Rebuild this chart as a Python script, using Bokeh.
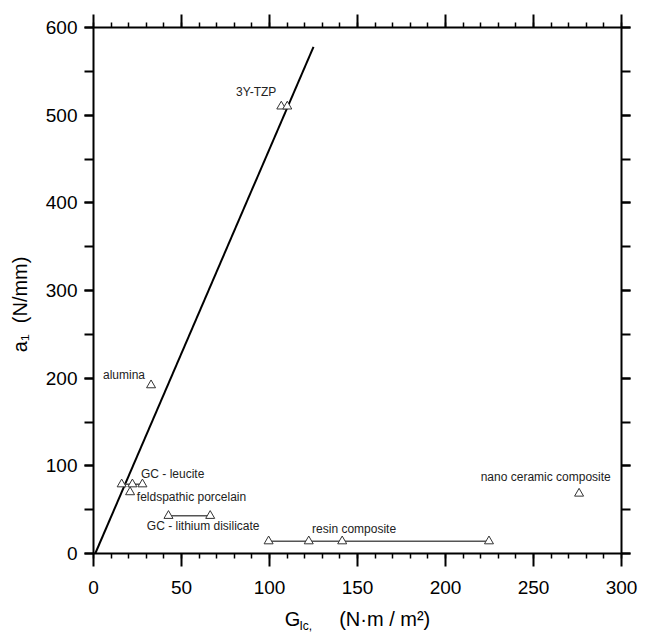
from bokeh.plotting import figure
from bokeh.models import Range1d, LinearAxis, SingleIntervalTicker, ColumnDataSource
from bokeh.core.properties import value
from bokeh.embed import file_html
from bokeh.resources import INLINE

FONT = "Liberation Sans"
NB = "\u00a0"

# --- data ---
tzp_x = [106.7, 110.1]
tzp_y = [510, 510]
alumina_x = [32.7]
alumina_y = [192]
leucite_x = [16.0, 22.1, 27.8]
leucite_y = [79, 79, 79]
feld_x = [20.8]
feld_y = [70]
lith_x = [42.6, 66.3]
lith_y = [43, 43]
resin_x = [99.5, 122.3, 141.3, 224.7]
resin_y = [14, 14, 14, 14]
nano_x = [275.9]
nano_y = [68.4]

fit_x = [1, 125]
fit_y = [0, 578]

label_text = ["3Y-TZP", "alumina", "GC - leucite", "feldspathic  porcelain",
              "GC - lithium disilicate", "resin  composite", "nano ceramic composite"]
label_x = [81.0, 5.4, 27.0, 24.6, 30.3, 124.2, 220.0]
label_y = [526, 204, 91, 64, 31.5, 27.4, 86.7]

x_label_main = "G" + NB * 7 + "(N·m / m²)"
x_label_sub = "Ic," + NB * 31
y_label = "a₁" + NB * 2 + "(N/mm)" + NB * 5

x_ticks_interval = 50
y_ticks_interval = 100

W, H = 641, 636
p = figure(width=W, height=H, output_backend="svg", toolbar_location=None,
           x_range=Range1d(0, 300), y_range=Range1d(0, 600),
           x_axis_location=None, y_axis_location=None,
           min_border_left=93, min_border_right=20, min_border_top=27, min_border_bottom=83)
p.outline_line_color = None
p.xgrid.visible = False
p.ygrid.visible = False
p.background_fill_color = "white"
p.border_fill_color = "white"


def style_x(ax, show_labels):
    ax.axis_line_width = 2
    ax.axis_line_color = "black"
    ax.major_tick_line_width = 2
    ax.minor_tick_line_width = 1.5
    ax.major_tick_in = 0
    ax.major_tick_out = 13
    ax.minor_tick_in = 0
    ax.minor_tick_out = 5
    ax.major_label_text_font = FONT
    if show_labels:
        ax.major_label_text_font_size = "19px"
        ax.major_label_text_color = "black"
        ax.major_label_standoff = 14
    else:
        ax.major_label_text_font_size = "1px"
        ax.major_label_overrides = {v: "" for v in range(0, 301, 50)}
        ax.major_label_standoff = 0


def style_y(ax, show_labels):
    ax.axis_line_width = 2
    ax.axis_line_color = "black"
    ax.major_tick_line_width = 2
    ax.minor_tick_line_width = 2
    ax.major_tick_in = 0
    ax.major_tick_out = 9
    ax.minor_tick_in = 0
    ax.minor_tick_out = 9
    ax.major_label_text_font = FONT
    if show_labels:
        ax.major_label_text_font_size = "19px"
        ax.major_label_text_color = "black"
        ax.major_label_standoff = 7
    else:
        ax.major_label_text_font_size = "1px"
        ax.major_label_overrides = {v: "" for v in range(0, 601, 100)}
        ax.major_label_standoff = 0


xb = LinearAxis(ticker=SingleIntervalTicker(interval=x_ticks_interval, num_minor_ticks=5))
style_x(xb, True)
xb.axis_label = x_label_main
xb.axis_label_text_font = FONT
xb.axis_label_text_font_style = "normal"
xb.axis_label_text_font_size = "20px"
xb.axis_label_text_color = "black"
xb.axis_label_standoff = 11
p.add_layout(xb, "below")

# second (invisible) bottom axis, carrying only the subscript of the x label
xs_ax = LinearAxis(ticker=SingleIntervalTicker(interval=x_ticks_interval, num_minor_ticks=0))
xs_ax.axis_line_color = None
xs_ax.major_tick_line_color = None
xs_ax.minor_tick_line_color = None
xs_ax.major_tick_out = 0
xs_ax.major_tick_in = 0
xs_ax.major_label_text_font_size = "1px"
xs_ax.major_label_overrides = {v: "" for v in range(0, 301, 50)}
xs_ax.major_label_standoff = 0
xs_ax.axis_label = x_label_sub
xs_ax.axis_label_text_font = FONT
xs_ax.axis_label_text_font_style = "normal"
xs_ax.axis_label_text_font_size = "12px"
xs_ax.axis_label_text_color = "black"
xs_ax.axis_label_standoff = -14
p.add_layout(xs_ax, "below")

xt = LinearAxis(ticker=SingleIntervalTicker(interval=x_ticks_interval, num_minor_ticks=5))
style_x(xt, False)
p.add_layout(xt, "above")

yl = LinearAxis(ticker=SingleIntervalTicker(interval=y_ticks_interval, num_minor_ticks=2))
style_y(yl, True)
yl.axis_label = y_label
yl.axis_label_text_font = FONT
yl.axis_label_text_font_style = "normal"
yl.axis_label_text_font_size = "20px"
yl.axis_label_text_color = "black"
yl.axis_label_standoff = 12
p.add_layout(yl, "left")

yr = LinearAxis(ticker=SingleIntervalTicker(interval=y_ticks_interval, num_minor_ticks=2))
style_y(yr, False)
p.add_layout(yr, "right")

# fitted line
p.line(fit_x, fit_y, line_color="black", line_width=2)

# connectors
conn_color = "#555555"
p.line(leucite_x, leucite_y, line_color=conn_color, line_width=1.5)
p.line(lith_x, lith_y, line_color=conn_color, line_width=1.5)
p.line(resin_x, resin_y, line_color=conn_color, line_width=1.5)
p.line(tzp_x, tzp_y, line_color=conn_color, line_width=1.0)

# markers
mk = dict(size=9, fill_color="white", fill_alpha=1, line_color="#333333", line_width=1)
for xs, ys in [(tzp_x, tzp_y), (alumina_x, alumina_y), (leucite_x, leucite_y),
               (feld_x, feld_y), (lith_x, lith_y), (resin_x, resin_y), (nano_x, nano_y)]:
    p.scatter(xs, ys, marker="triangle", **mk)

src = ColumnDataSource(dict(x=label_x, y=label_y, t=label_text))
p.text(x="x", y="y", text="t", source=src, text_font=value(FONT), text_font_size="12px",
       text_color="#222222", text_align="left", text_baseline="middle")

open("out.html", "w").write(file_html(p, INLINE))
